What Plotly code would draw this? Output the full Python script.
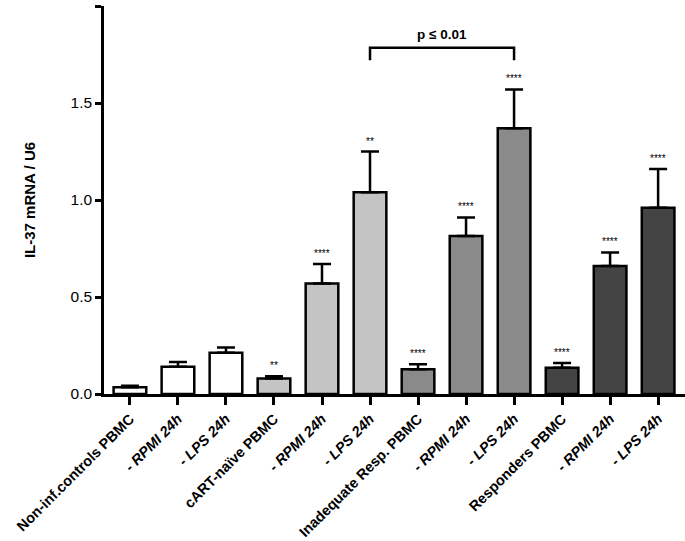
import plotly.graph_objects as go

categories = ["Non-inf.controls PBMC", "- <i>RPMI 24h</i>", "- <i>LPS 24h</i>",
              "cART-naïve PBMC", "- <i>RPMI 24h</i>", "- <i>LPS 24h</i>",
              "Inadequate Resp. PBMC", "- <i>RPMI 24h</i>", "- <i>LPS 24h</i>",
              "Responders PBMC", "- <i>RPMI 24h</i>", "- <i>LPS 24h</i>"]
means = [0.035, 0.14, 0.212, 0.08, 0.57, 1.04, 0.128, 0.815, 1.37, 0.135, 0.66, 0.96]
sem = [0.008, 0.025, 0.028, 0.012, 0.10, 0.21, 0.025, 0.095, 0.20, 0.025, 0.07, 0.20]
stars = ["", "", "", "**", "****", "**", "****", "****", "****", "****", "****", "****"]
colors = ["#ffffff"] * 3 + ["#c4c4c4"] * 3 + ["#8a8a8a"] * 3 + ["#444444"] * 3
y_ticks = [0.0, 0.5, 1.0, 1.5, 2.0]
bracket = {"from": 5, "to": 8, "y": 1.785, "leg": 1.72, "label": "p ≤ 0.01"}

x = list(range(len(categories)))

fig = go.Figure()
fig.add_trace(go.Bar(
    x=x, y=means, width=0.68,
    marker=dict(color=colors, line=dict(color="black", width=2.5)),
    error_y=dict(type="data", symmetric=False, array=sem, arrayminus=[0] * len(sem),
                 color="black", thickness=2.5, width=9),
    showlegend=False, hoverinfo="skip",
))

for i, s in enumerate(stars):
    if s:
        fig.add_annotation(x=x[i], y=means[i] + sem[i], text=s, showarrow=False,
                           yanchor="bottom", yshift=3,
                           font=dict(family="Liberation Sans, Arial", size=10, color="black"))

b = bracket
fig.add_shape(type="path",
              path=f"M {b['from']},{b['leg']} L {b['from']},{b['y']} L {b['to']},{b['y']} L {b['to']},{b['leg']}",
              line=dict(color="black", width=2.5), xref="x", yref="y")
fig.add_annotation(x=(b["from"] + b["to"]) / 2, y=b["y"], text=f"<b>{b['label']}</b>",
                   showarrow=False, yanchor="bottom", yshift=4,
                   font=dict(family="Liberation Sans, Arial", size=13.5, color="black"))

fig.update_layout(
    width=685, height=541,
    margin=dict(l=104, r=0, t=6, b=147, autoexpand=False),
    plot_bgcolor="white", paper_bgcolor="white",
    font=dict(family="Liberation Sans, Arial", color="black"),
    xaxis=dict(range=[-0.54, 11.56], tickvals=x, ticktext=[f"<b>{c}</b>" for c in categories],
               tickangle=-45, showline=True, linecolor="black", linewidth=2.5,
               ticks="outside", ticklen=8, tickwidth=2.5, tickcolor="black", automargin=False,
               tickfont=dict(size=14.5, color="black"), showgrid=False, zeroline=False),
    yaxis=dict(range=[0, 2.0], tickvals=y_ticks, ticktext=[f"{v:.1f}" for v in y_ticks],
               showline=True, linecolor="black", linewidth=2.5, automargin=False,
               ticks="outside", ticklen=6, tickwidth=2.5, tickcolor="black",
               tickfont=dict(size=15.5, color="black"), showgrid=False, zeroline=False,
               title=dict(text="<b>IL-37 mRNA / U6</b>", font=dict(size=15), standoff=32)),
)

fig.write_html("out.html", config={"displayModeBar": False},
               post_script="document.body.style.margin='0';document.body.style.overflow='hidden';")
